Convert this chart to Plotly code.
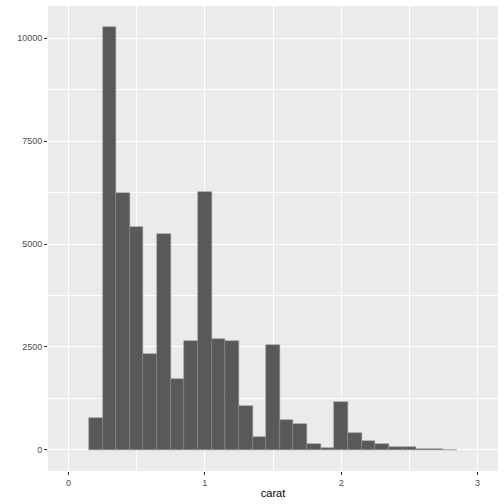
import plotly.graph_objects as go

bin_centers = [0.2, 0.3, 0.4, 0.5, 0.6, 0.7, 0.8, 0.9, 1.0, 1.1, 1.2, 1.3, 1.4, 1.5,
               1.6, 1.7, 1.8, 1.9, 2.0, 2.1, 2.2, 2.3, 2.4, 2.5, 2.6, 2.7, 2.8]
counts = [783, 10272, 6232, 5415, 2328, 5245, 1722, 2650, 6256, 2682, 2643, 1057, 322, 2546,
          735, 630, 145, 56, 1171, 403, 226, 136, 73, 80, 30, 20, 5]
binwidth = 0.1
x_ticks = [0, 1, 2, 3]
y_ticks = [0, 2500, 5000, 7500, 10000]

fig = go.Figure(go.Bar(
    x=bin_centers, y=counts, width=binwidth,
    marker=dict(color="#595959", line=dict(color="#8c8c8c", width=0.5)),
    hoverinfo="x+y",
))

ymax = max(counts)
fig.update_layout(
    width=504, height=504,
    margin=dict(l=48, r=6, t=6, b=33, autoexpand=False),
    paper_bgcolor="white", plot_bgcolor="#EBEBEB",
    showlegend=False, bargap=0,
    font=dict(family="Liberation Sans, Arial, sans-serif", color="#4D4D4D"),
)
fig.update_xaxes(
    range=[-0.15, 3.15], tickvals=x_ticks, ticktext=[str(v) for v in x_ticks],
    showgrid=True, gridcolor="white", gridwidth=1.1,
    minor=dict(tickvals=[0.5, 1.5, 2.5], showgrid=True, gridcolor="white", gridwidth=0.5, ticks=""),
    ticks="outside", ticklen=3, tickcolor="#333333", tickwidth=1,
    tickfont=dict(size=9, color="#4D4D4D"),
    title=dict(text="carat", font=dict(size=11, color="black"), standoff=2),
    zeroline=False, showline=False, automargin=False,
)
fig.update_yaxes(
    range=[-0.05 * ymax, 1.05 * ymax], tickvals=y_ticks, ticktext=[str(v) for v in y_ticks],
    showgrid=True, gridcolor="white", gridwidth=1.1,
    minor=dict(tickvals=[1250, 3750, 6250, 8750], showgrid=True, gridcolor="white", gridwidth=0.5, ticks=""),
    ticks="outside", ticklen=3, tickcolor="#333333", tickwidth=1,
    tickfont=dict(size=9, color="#4D4D4D"),
    zeroline=False, showline=False, automargin=False,
)
fig.write_html("out.html", config={"displayModeBar": False},
               post_script="document.body.style.margin='0';")
